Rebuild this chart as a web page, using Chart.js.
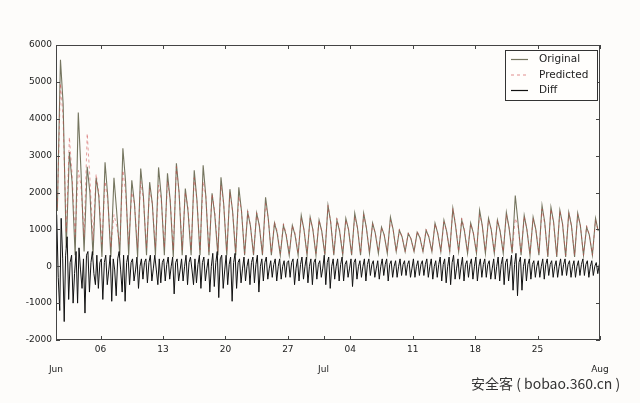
<!DOCTYPE html>
<html>
<head>
<meta charset="utf-8">
<script src="https://cdn.jsdelivr.net/npm/chart.js@4/dist/chart.umd.min.js"></script>
<style>
  html, body { margin: 0; padding: 0; background: #fdfcfa; }
  #wrap { position: relative; width: 640px; height: 403px; }
  #fuente {
    position: absolute; left: 471px; top: 373px;
    font-family: "Noto Sans CJK SC", "DejaVu Sans", sans-serif;
    font-size: 14px; color: #333; white-space: nowrap;
  }
</style>
</head>
<body>
<div id="wrap">
  <canvas id="grafico" width="640" height="403"></canvas>
  <div id="fuente">安全客 ( bobao.360.cn )</div>
</div>
<script>
// Días desde el 1 de junio; cada día tiene varias muestras.
const fasesSerie = [0.15, 0.5, 0.8];
const fasesDiff = [0.08, 0.25, 0.42, 0.58, 0.75, 0.92];

// Serie original (valle, pico, hombro por día)
const original = [
  1500, 5600, 4400,  500, 3100, 2300,  300, 4170, 2600,  400, 2700, 2000,  300, 2400, 1900,  250, 2820, 1900,  250, 2400, 1500,
  300, 3200, 2300,  300, 2330, 1700,  250, 2650, 1900,  300, 2280, 1700,  300, 2680, 1900,  300, 2520, 1800,  250, 2790, 2000,
  300, 2110, 1500,  300, 2600, 1800,  300, 2740, 1900,  300, 1980, 1400,  300, 2410, 1700,  300, 2090, 1500,  300, 2140, 1500,
  300, 1460, 1100,  300, 1440, 1100,  300, 1870, 1300,  300, 1170, 900,  300, 1110, 850,  300, 1110, 850,  300, 1380, 1000,
  300, 1330, 1000,  300, 1250, 950,  300, 1650, 1200,  300, 1250, 950,  300, 1300, 1000,  300, 1440, 1050,  300, 1440, 1050,
  350, 1170, 900,  350, 1060, 850,  350, 1330, 1000,  400, 975, 800,  400, 890, 750,  400, 920, 780,  400, 975, 800,
  400, 1170, 900,  400, 1250, 950,  400, 1570, 1100,  400, 1250, 950,  350, 1170, 900,  350, 1520, 1100,  350, 1300, 1000,
  350, 1250, 950,  350, 1460, 1050,  350, 1920, 1200,  300, 1380, 1000,  300, 1330, 1000,  300, 1650, 1200,  250, 1600, 1200,
  250, 1520, 1150,  250, 1460, 1100,  250, 1440, 1100,  300, 1060, 850,  300, 1300, 950
];

// Serie predicha
const predicha = [
  1600, 4960, 4000,  900, 3500, 2500,  800, 2600, 2200,  800, 3600, 2400,  700, 2500, 2000,  600, 2300, 1800,  500, 1400, 1100,
  600, 2600, 2000,  600, 2000, 1700,  500, 2300, 1800,  500, 2100, 1700,  500, 2200, 1800,  500, 2300, 1800,  450, 2700, 2000,
  450, 2000, 1600,  450, 2400, 1800,  450, 2300, 1900,  400, 1950, 1500,  400, 2200, 1700,  400, 2000, 1500,  400, 1900, 1500,
  350, 1500, 1100,  350, 1450, 1100,  350, 1700, 1300,  350, 1200, 950,  350, 1150, 900,  350, 1100, 900,  350, 1300, 1000,
  350, 1300, 1000,  350, 1250, 950,  350, 1650, 1200,  350, 1300, 1000,  350, 1250, 1000,  350, 1350, 1050,  350, 1400, 1050,
  400, 1150, 900,  400, 1050, 850,  400, 1250, 1000,  400, 1000, 800,  400, 900, 750,  400, 950, 800,  400, 1000, 800,
  400, 1150, 900,  400, 1200, 950,  400, 1570, 1150,  400, 1300, 1000,  400, 1150, 900,  400, 1400, 1100,  400, 1250, 1000,
  400, 1250, 950,  400, 1400, 1050,  400, 1300, 1100,  350, 1350, 1000,  350, 1300, 1000,  350, 1550, 1150,  300, 1550, 1150,
  300, 1500, 1150,  300, 1450, 1100,  300, 1400, 1100,  300, 1100, 850,  300, 1250, 950
];

// Diferencia (seis muestras por día)
const diferencia = [
  1400, -300, -1200, 1300, 200, -1500,   300, 800, -900, 100, 300, -1000,   -200, 400, -1000, 500, -100, -600,
  200, -1270, 300, 400, -700, 100,   400, -200, -500, 300, -600, 100,   200, -900, 100, 300, -500, -100,
  300, -950, 200, -100, -800, 200,   400, -100, -700, 300, -950, 100,   300, -500, 100, 200, -400, -100,
  250, -600, 0, 200, -350, 100,   200, -450, 100, 300, -400, -50,   300, -100, -500, 200, -450, 100,
  200, -400, 50, 250, -350, 0,   250, -750, 100, 200, -400, -100,   200, -400, 0, 300, -500, 100,
  250, -100, -500, 200, -450, 50,   300, -600, 100, 250, -400, -50,   200, -700, 0, 350, -550, 100,
  400, -850, 200, 300, -600, -100,   300, -500, 50, 250, -950, 100,   350, -600, 100, 200, -450, -50,
  250, -400, 0, 200, -500, 100,   250, -450, 50, 300, -700, 0,   200, -400, 100, 250, -350, -50,
  150, -300, 50, 200, -400, 0,   200, -350, 0, 150, -300, 100,   150, -300, 100, 200, -500, -50,
  200, -400, 50, 250, -350, 0,   250, -450, 0, 200, -500, 100,   200, -350, 50, 150, -300, -50,
  300, -500, 100, 250, -600, 0,   200, -350, 0, 200, -400, 50,   250, -400, 50, 150, -300, -50,
  200, -550, 100, 200, -350, 0,   150, -300, 0, 200, -400, 50,   200, -250, 50, 150, -300, -50,
  150, -350, 0, 200, -250, 50,   200, -400, 50, 150, -300, 0,   150, -300, 0, 200, -250, 50,
  150, -250, 50, 150, -300, -50,   200, -300, 0, 150, -250, 50,   150, -250, 50, 200, -300, 0,
  200, -350, 0, 150, -300, 50,   250, -400, 50, 200, -450, 0,   250, -500, 100, 300, -350, -50,
  200, -350, 0, 250, -400, 50,   150, -300, 50, 200, -350, 0,   250, -400, 0, 200, -300, 50,
  200, -300, 50, 150, -350, -50,   200, -350, 0, 250, -400, 50,   250, -500, 100, 200, -400, 0,
  300, -650, 50, 350, -800, 100,   250, -650, 0, 200, -400, 50,   200, -350, 50, 150, -300, 0,
  150, -300, 0, 200, -350, 50,   200, -250, 50, 150, -300, 0,   150, -300, 0, 200, -250, 50,
  200, -250, 50, 150, -300, 0,   150, -300, 0, 150, -250, 50,   200, -250, 50, 150, -300, 0,
  150, -250, 0, 100, -200, 50
];

// Marcas del eje X (días desde el 1 de junio) y sus etiquetas
const diasMarcas = [0, 5, 12, 19, 26, 30, 33, 40, 47, 54, 61];
const etiquetasDias = ['', '06', '13', '20', '27', '', '04', '11', '18', '25', ''];
const etiquetasMeses = ['Jun', '', '', '', '', 'Jul', '', '', '', '', 'Aug'];

// Convierte una lista plana en puntos {x: día, y: valor}
function aPuntos(valores, fases) {
  return valores.map((v, i) => ({
    x: Math.floor(i / fases.length) + fases[i % fases.length],
    y: v
  }));
}

// Marco del gráfico, marcas interiores y leyenda con caja
const marcoYLeyenda = {
  id: 'marcoYLeyenda',
  afterDraw(chart) {
    const { ctx, chartArea: a, scales } = chart;
    ctx.save();
    ctx.strokeStyle = '#444';
    ctx.lineWidth = 1;
    ctx.setLineDash([]);
    ctx.strokeRect(a.left + 0.5, a.top + 0.5, a.width - 1, a.height - 1);

    // marcas hacia adentro
    ctx.beginPath();
    scales.x.ticks.forEach(t => {
      const px = Math.round(scales.x.getPixelForValue(t.value)) + 0.5;
      ctx.moveTo(px, a.bottom); ctx.lineTo(px, a.bottom - 4);
      ctx.moveTo(px, a.top); ctx.lineTo(px, a.top + 4);
    });
    scales.y.ticks.forEach(t => {
      const py = Math.round(scales.y.getPixelForValue(t.value)) + 0.5;
      ctx.moveTo(a.left, py); ctx.lineTo(a.left + 4, py);
      ctx.moveTo(a.right, py); ctx.lineTo(a.right - 4, py);
    });
    ctx.stroke();

    // leyenda
    const ancho = 92, alto = 50;
    const x0 = a.right - ancho - 3, y0 = a.top + 5;
    ctx.fillStyle = '#fffefc';
    ctx.fillRect(x0, y0, ancho, alto);
    ctx.strokeStyle = '#333';
    ctx.strokeRect(x0 + 0.5, y0 + 0.5, ancho, alto);
    ctx.font = '10.5px "DejaVu Sans"';
    ctx.textBaseline = 'middle';
    chart.data.datasets.forEach((ds, i) => {
      const yy = y0 + 9.5 + i * 15.5;
      ctx.strokeStyle = ds.borderColor;
      ctx.lineWidth = 1.2;
      ctx.setLineDash(ds.borderDash || []);
      ctx.beginPath();
      ctx.moveTo(x0 + 6, yy); ctx.lineTo(x0 + 23, yy);
      ctx.stroke();
      ctx.fillStyle = '#222';
      ctx.fillText(ds.label, x0 + 34, yy);
    });
    ctx.restore();
  }
};

new Chart(document.getElementById('grafico'), {
  type: 'line',
  data: {
    datasets: [
      {
        label: 'Original',
        data: aPuntos(original, fasesSerie),
        borderColor: '#75755f',
        borderWidth: 1.1,
        order: 3
      },
      {
        label: 'Predicted',
        data: aPuntos(predicha, fasesSerie),
        borderColor: 'rgba(205, 70, 70, 0.5)',
        borderWidth: 1,
        borderDash: [3, 3],
        order: 2
      },
      {
        label: 'Diff',
        data: aPuntos(diferencia, fasesDiff),
        borderColor: '#111',
        borderWidth: 1,
        order: 1
      }
    ]
  },
  options: {
    responsive: false,
    animation: false,
    elements: { point: { radius: 0 }, line: { tension: 0 } },
    layout: { padding: { top: 45, right: 40, left: 0, bottom: 0 } },
    plugins: { legend: { display: false }, tooltip: { enabled: false } },
    scales: {
      x: {
        type: 'linear',
        min: 0,
        max: 61,
        grid: { display: false, drawTicks: false },
        border: { display: false },
        afterBuildTicks: (scale) => { scale.ticks = diasMarcas.map(v => ({ value: v })); },
        afterFit: (scale) => { scale.height = 63; },
        ticks: {
          autoSkip: false,
          maxRotation: 0,
          padding: 0,
          color: '#222',
          font: { family: 'DejaVu Sans', size: 9, lineHeight: 2.2 },
          callback: (valor) => {
            const i = diasMarcas.indexOf(valor);
            return [etiquetasDias[i], etiquetasMeses[i]];
          }
        }
      },
      y: {
        min: -2000,
        max: 6000,
        grid: { display: false, drawTicks: false },
        border: { display: false },
        afterFit: (scale) => { scale.width = 56; },
        ticks: {
          stepSize: 1000,
          padding: 4,
          color: '#222',
          font: { family: 'DejaVu Sans', size: 9 },
          callback: (valor) => String(valor)
        }
      }
    }
  },
  plugins: [marcoYLeyenda]
});
</script>
</body>
</html>
